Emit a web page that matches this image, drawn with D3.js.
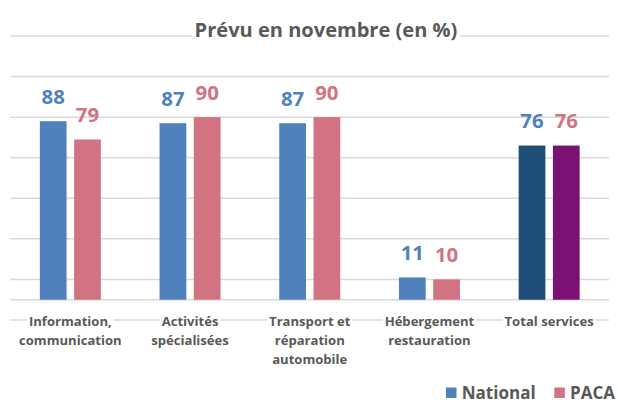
<!DOCTYPE html>
<html>
<head>
<meta charset="utf-8">
<script src="https://cdn.jsdelivr.net/npm/d3@7"></script>
<style>
html,body{margin:0;padding:0;background:#fff;}
svg{display:block;}
</style>
</head>
<body>
<script>
const categories = [
  ["Information,", "communication"],
  ["Activités", "spécialisées"],
  ["Transport et", "réparation", "automobile"],
  ["Hébergement", "restauration"],
  ["Total services"]
];
const series = ["National", "PACA"];
const nationalValues = [88, 87, 87, 11, 76];
const pacaValues = [79, 90, 90, 10, 76];
const gridValues = [-10, 0, 10, 30, 50, 70, 90, 110, 130];
const title = "Prévu en novembre (en %)";

const W = 618, H = 405;
const FONT = "'Open Sans', 'Noto Sans', sans-serif";
const GRAY = "#595959";
const barColors = { National: "#4F81BD", PACA: "#D27382" };
const totalColors = { National: "#1F4E79", PACA: "#7B1173" };
const labelColors = { National: "#4F81BD", PACA: "#D27382" };

const svg = d3.select("body").append("svg").attr("width", W).attr("height", H);
const gridLayer = svg.append("g");
const maskLayer = svg.append("g");
const barLayer = svg.append("g");
const textLayer = svg.append("g");

function fit(str, target, weight) {
  const t = svg.append("text").attr("font-family", FONT).attr("font-weight", weight)
    .attr("font-size", 100).text(str);
  const w = t.node().getComputedTextLength();
  t.remove();
  return 100 * target / w;
}

const catKeys = categories.map(c => c.join(" "));
const x0 = d3.scaleBand().domain(catKeys).range([10.5, 609]).paddingInner(0).paddingOuter(0);
const bw = x0.bandwidth();
const x1 = d3.scaleBand().domain(series).range([bw / 2 - 30.5, bw / 2 + 30.5]).paddingInner(0.22);
const y = d3.scaleLinear().domain([-10, 130]).range([320, 36]);

// gridlines
gridLayer.selectAll("line").data(gridValues).join("line")
  .attr("x1", 10.5).attr("x2", 609)
  .attr("y1", d => y(d)).attr("y2", d => y(d))
  .attr("stroke", "#D9D9D9").attr("stroke-width", 1.5);

// bars
const data = catKeys.map((k, i) => ({ key: k, i, vals: [
  { s: "National", v: nationalValues[i] }, { s: "PACA", v: pacaValues[i] }] }));

const groups = barLayer.selectAll("g").data(data).join("g")
  .attr("transform", d => `translate(${x0(d.key)},0)`);

groups.selectAll("rect").data(d => d.vals.map(v => ({ ...v, last: d.i === catKeys.length - 1 }))).join("rect")
  .attr("x", d => x1(d.s)).attr("width", x1.bandwidth())
  .attr("y", d => y(d.v)).attr("height", d => y(0) - y(d.v))
  .attr("fill", d => d.last ? totalColors[d.s] : barColors[d.s]);

const valSize = fit("88", 23.3, 700);
groups.selectAll("text.val").data(d => d.vals).join("text").attr("class", "val")
  .attr("x", d => x1(d.s) + x1.bandwidth() / 2)
  .attr("y", d => y(d.v) - 17.5)
  .attr("text-anchor", "middle")
  .attr("font-family", FONT).attr("font-weight", 700).attr("font-size", valSize)
  .attr("fill", d => labelColors[d.s])
  .text(d => d.v);

// category labels
const catSize = fit("communication", 102.7, 700);
categories.forEach((lines, i) => {
  const cx = x0(catKeys[i]) + bw / 2;
  lines.forEach((ln, j) => {
    const by = 326 + j * 19;
    const t = textLayer.append("text").attr("x", cx).attr("y", by)
      .attr("text-anchor", "middle")
      .attr("font-family", FONT).attr("font-weight", 700).attr("font-size", catSize)
      .attr("fill", GRAY).text(ln);
    if (j === 0) {
      const w = t.node().getComputedTextLength();
      maskLayer.append("rect").attr("x", cx - w / 2 - 2).attr("y", by - 12)
        .attr("width", w + 4).attr("height", 15).attr("fill", "#fff");
    }
  });
});

// title
const titleSize = fit(title, 263, 700);
const tt = textLayer.append("text").attr("x", 326).attr("y", 36.7).attr("text-anchor", "middle")
  .attr("font-family", FONT).attr("font-weight", 700).attr("font-size", titleSize)
  .attr("fill", GRAY).text(title);
const tw = tt.node().getComputedTextLength();
maskLayer.append("rect").attr("x", 326 - tw / 2 - 3).attr("y", 18).attr("width", tw + 6)
  .attr("height", 24).attr("fill", "#fff");

// legend
const legSize = fit("National", 74, 700);
const legend = [
  { s: "National", sx: 446, tx: 461.7 },
  { s: "PACA", sx: 554.3, tx: 570 }
];
const lg = textLayer.append("g");
lg.selectAll("rect").data(legend).join("rect")
  .attr("x", d => d.sx).attr("y", 387.5).attr("width", 10.5).attr("height", 10.5)
  .attr("fill", d => barColors[d.s]);
lg.selectAll("text").data(legend).join("text")
  .attr("x", d => d.tx).attr("y", 399)
  .attr("font-family", FONT).attr("font-weight", 700).attr("font-size", legSize)
  .attr("fill", GRAY).text(d => d.s);
</script>
</body>
</html>
